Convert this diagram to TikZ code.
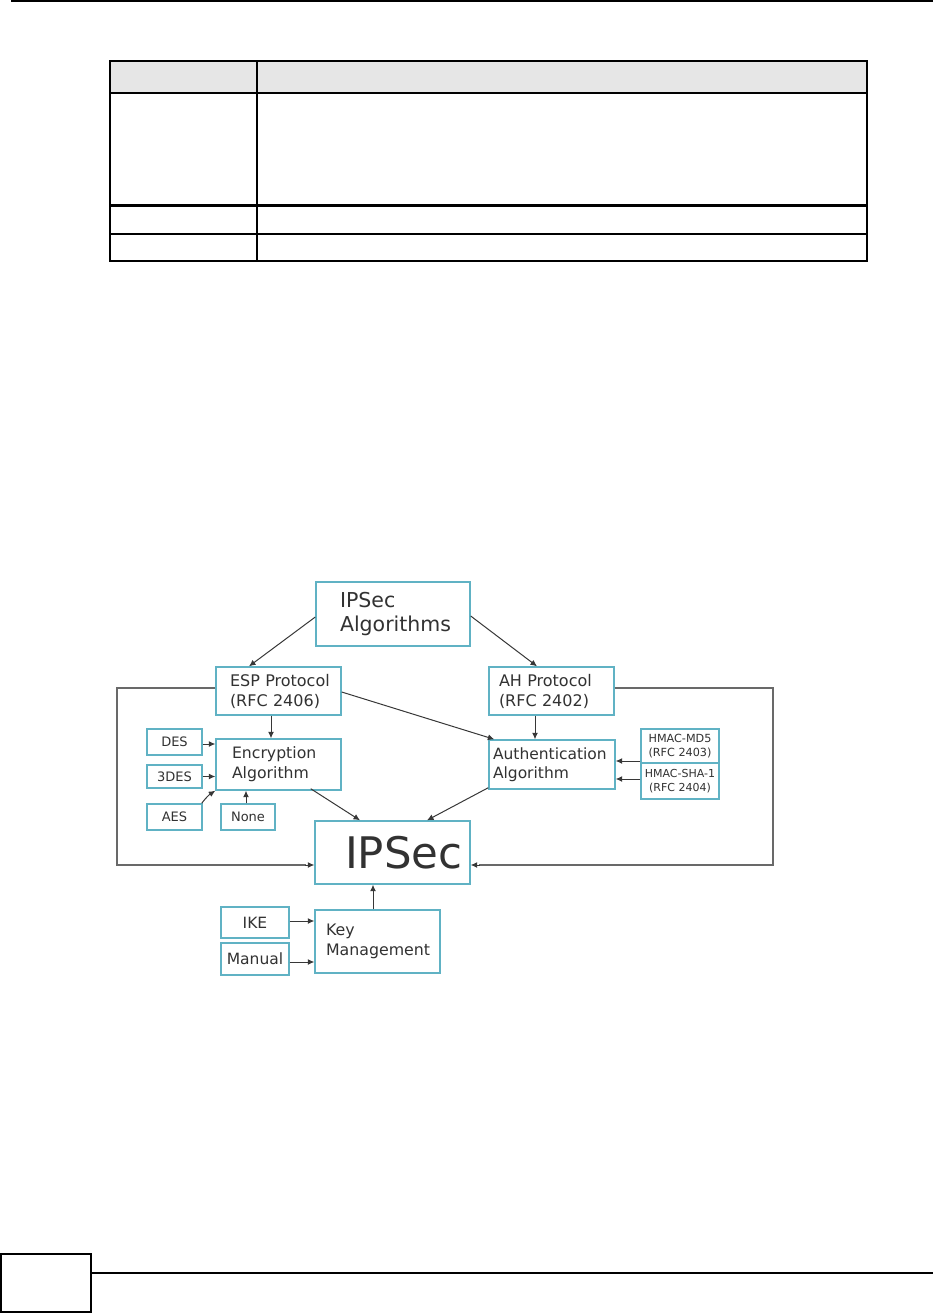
\documentclass[tikz,border=0pt]{standalone}
\usepackage{fontspec}
\newfontfamily\dvs{DejaVu Sans}
\usetikzlibrary{arrows.meta}
\definecolor{boxc}{RGB}{96,178,196}
\definecolor{txt}{RGB}{50,50,50}
\definecolor{lnc}{RGB}{55,55,55}
\definecolor{loopc}{RGB}{105,105,105}
\definecolor{hdr}{RGB}{230,230,230}
\begin{document}
\begin{tikzpicture}[x=1pt,y=-1pt,
  box/.style={draw=boxc, line width=1.4pt, fill=white, text=txt, inner ysep=0pt, align=left},
  cbox/.style={draw=boxc, line width=1.4pt, fill=white, text=txt, inner sep=0pt, align=center},
  arr/.style={draw=lnc, line width=1pt, -{Latex[length=6.5pt,width=6pt]}},
  loopline/.style={draw=loopc, line width=1.3pt},
  tline/.style={draw=black, line width=1.5pt},
]
\useasboundingbox (0,0) rectangle (933,1313);

% page header rule
\draw[line width=2pt] (11,1) -- (933,1);

% table
\fill[hdr] (110,61) rectangle (867,93);
\draw[tline] (110,61) rectangle (867,261);
\draw[tline] (110,93) -- (867,93);
\draw[line width=3pt] (110,206) -- (867,206);
\draw[tline] (110,234) -- (867,234);
\draw[tline] (257,61) -- (257,261);

% diagram boxes
\node[box, font=\dvs\fontsize{20.5}{24}\selectfont, minimum width=154pt, minimum height=64pt, text width=106pt, inner xsep=24pt] (alg) at (393,614) {\mbox{IPSec}\\\mbox{Algorithms}};
\node[box, font=\dvs\fontsize{16}{20}\selectfont, minimum width=125pt, minimum height=48pt, text width=97pt, inner xsep=14pt] (esp) at (278.5,691) {\mbox{ESP Protocol}\\\mbox{(RFC 2406)}};
\node[box, font=\dvs\fontsize{16}{20}\selectfont, minimum width=125pt, minimum height=48pt, text width=105pt, inner xsep=10pt] (ah) at (551.5,691) {\mbox{AH Protocol}\\\mbox{(RFC 2402)}};
\node[box, font=\dvs\fontsize{15.7}{20}\selectfont, minimum width=125pt, minimum height=51pt, text width=93pt, inner xsep=16pt] (enc) at (278.5,764.5) {\mbox{Encryption}\\\mbox{Algorithm}};
\node[box, font=\dvs\fontsize{15.5}{19}\selectfont, minimum width=126pt, minimum height=49pt, text width=118pt, inner xsep=4pt] (auth) at (552,764.5) {\mbox{Authentication}\\\mbox{Algorithm}};
\node[cbox, font=\dvs\fontsize{13}{15}\selectfont, minimum width=55pt, minimum height=26pt] (des) at (174.5,742) {DES};
\node[cbox, font=\dvs\fontsize{13}{15}\selectfont, minimum width=55pt, minimum height=23pt] (tdes) at (174.5,776.5) {3DES};
\node[cbox, font=\dvs\fontsize{13}{15}\selectfont, minimum width=55pt, minimum height=26pt] (aes) at (174.5,817) {AES};
\node[cbox, font=\dvs\fontsize{13}{15}\selectfont, minimum width=54pt, minimum height=26pt] (none) at (248,817) {None};
\node[cbox, font=\dvs\fontsize{11.2}{14}\selectfont, minimum width=78pt, minimum height=34pt] (hmd) at (680,746) {HMAC-MD5\\(RFC 2403)};
\node[cbox, font=\dvs\fontsize{11}{14}\selectfont, minimum width=78pt, minimum height=36pt] (hsha) at (680,781) {HMAC-SHA-1\\(RFC 2404)};
\node[box, font=\dvs\fontsize{43.5}{48}\selectfont, minimum width=155pt, minimum height=63pt, text width=95pt, inner xsep=30pt] (ipsec) at (392.5,852.5) {\mbox{IPSec}};
\node[box, font=\dvs\fontsize{15.8}{20}\selectfont, minimum width=125pt, minimum height=63pt, text width=103pt, inner xsep=11pt] (key) at (377.5,941.5) {\mbox{Key}\\\mbox{Management}};
\node[cbox, font=\dvs\fontsize{15.5}{18}\selectfont, minimum width=68pt, minimum height=31pt] (ike) at (255,922.5) {IKE};
\node[cbox, font=\dvs\fontsize{15.5}{18}\selectfont, minimum width=68pt, minimum height=32pt] (manual) at (255,959) {Manual};

% loop coordinates
\coordinate (lt) at (117,688);
\coordinate (lb) at (117,865);
\coordinate (rt) at (773,688);
\coordinate (rb) at (773,865);

% connectors
\draw[arr] ([yshift=-3pt]alg.west) -- ([xshift=-29.5pt]esp.north);
\draw[arr] ([yshift=-2pt]alg.east) -- ([xshift=-14.5pt]ah.north);
\draw[arr] ([yshift=-1pt]esp.east) -- ([xshift=6pt]auth.north west);
\draw[arr] ([xshift=-7.5pt]esp.south) -- ([xshift=-7.5pt]enc.north);
\draw[arr] ([xshift=-16.5pt]ah.south) -- ([xshift=-17pt]auth.north);
\draw[arr] ([yshift=-2pt]des.east) -- ([yshift=-2pt]des.east -| enc.west);
\draw[arr] (tdes.east) -- (tdes.east -| enc.west);
\draw[arr] ([xshift=-1pt]aes.north east) to[bend left=10] (enc.south west);
\draw[arr] ([xshift=-2pt]none.north) -- ([xshift=-2pt]none.north |- enc.south);
\draw[arr] ([xshift=-31pt,yshift=2pt]enc.south east) -- ([xshift=-32.5pt]ipsec.north);
\draw[arr] ([yshift=2pt]auth.south west) -- ([xshift=34.5pt]ipsec.north);
\draw[arr] ([yshift=-15pt]hmd.west) -- ([yshift=-15pt]hmd.west -| auth.east);
\draw[arr] ([yshift=2pt]hsha.west) -- ([yshift=2pt]hsha.west -| auth.east);
\draw[arr] ([xshift=-4.5pt]key.north) -- ([xshift=-4.5pt]key.north |- ipsec.south);
\draw[arr] ([yshift=1.5pt]ike.east) -- ([yshift=1.5pt]ike.east -| key.west);
\draw[arr] ([yshift=-3pt]manual.east) -- ([yshift=-3pt]manual.east -| key.west);
\draw[loopline] (esp.west |- lt) -- (lt) -- (lb) -- ([xshift=-8pt]ipsec.west |- lb);
\draw[arr] ([xshift=-9pt]ipsec.west |- lb) -- (ipsec.west |- lb);
\draw[loopline] (ah.east |- rt) -- (rt) -- (rb) -- ([xshift=8pt]ipsec.east |- rb);
\draw[arr] ([xshift=9pt]ipsec.east |- rb) -- (ipsec.east |- rb);

% page footer
\node[draw=black, line width=2pt, minimum width=90pt, minimum height=58pt, inner sep=0pt] (pgbox) at (46,1283) {};
\draw[line width=2pt] (pgbox.east |- 0,1273) -- (933,1273);
\end{tikzpicture}
\end{document}
